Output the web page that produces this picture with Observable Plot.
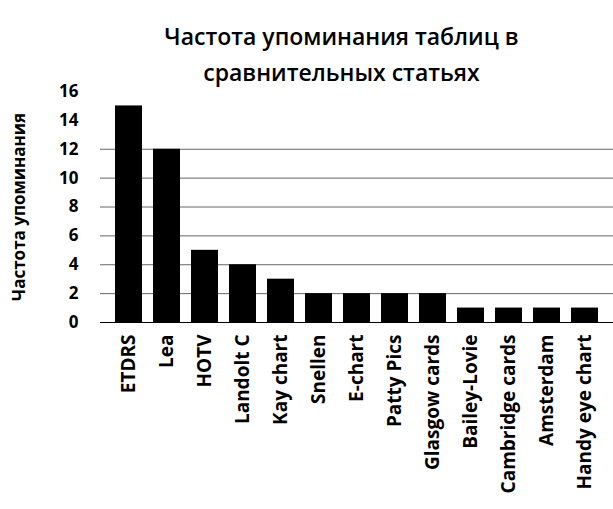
<!DOCTYPE html>
<html><head><meta charset="utf-8">
<script src="https://cdn.jsdelivr.net/npm/d3@7"></script>
<script src="https://cdn.jsdelivr.net/npm/@observablehq/plot@0.6"></script>
<style>
body{margin:0;background:#fff;font-family:"Open Sans",sans-serif}
#title{height:80px;width:613px;text-align:center;font-size:23px;font-weight:600;line-height:36px;padding-top:18px;box-sizing:border-box;padding-left:70px}
</style></head><body>
<div id="title">Частота упоминания таблиц в<br>сравнительных статьях</div>
<div id="plot"></div>
<script>
const charts = ["ETDRS","Lea","HOTV","Landolt C","Kay chart","Snellen","E-chart","Patty Pics","Glasgow cards","Bailey-Lovie","Cambridge cards","Amsterdam","Handy eye chart"];
const counts = [15,12,5,4,3,2,2,2,2,1,1,1,1];
const gridValues = [2,4,6,8,10,12];
const data = charts.map((c, i) => ({chart: c, count: counts[i]}));

const plot = Plot.plot({
  width: 613,
  height: 429,
  marginTop: 11,
  marginLeft: 100,
  marginRight: 0,
  marginBottom: 187,
  style: {fontFamily: "Open Sans, sans-serif", fontSize: "17px", fontWeight: "bold", color: "#000"},
  x: {domain: charts, padding: 0.3, label: null},
  y: {domain: [0, 16], ticks: [0,2,4,6,8,10,12,14,16], tickSize: 0, tickPadding: 22,
      label: "Частота упоминания", labelAnchor: "center", labelArrow: "none", labelOffset: 88},
  marks: [
    Plot.ruleY(gridValues, {stroke: "#666", strokeWidth: 1}),
    Plot.barY(data, {x: "chart", y: "count", fill: "#000"}),
    Plot.ruleY([0], {stroke: "#000"}),
    Plot.axisX({tickRotate: -90, tickSize: 0, tickPadding: 12, fontSize: 19, label: null})
  ]
});
document.getElementById("plot").appendChild(plot);
</script>
</body></html>
